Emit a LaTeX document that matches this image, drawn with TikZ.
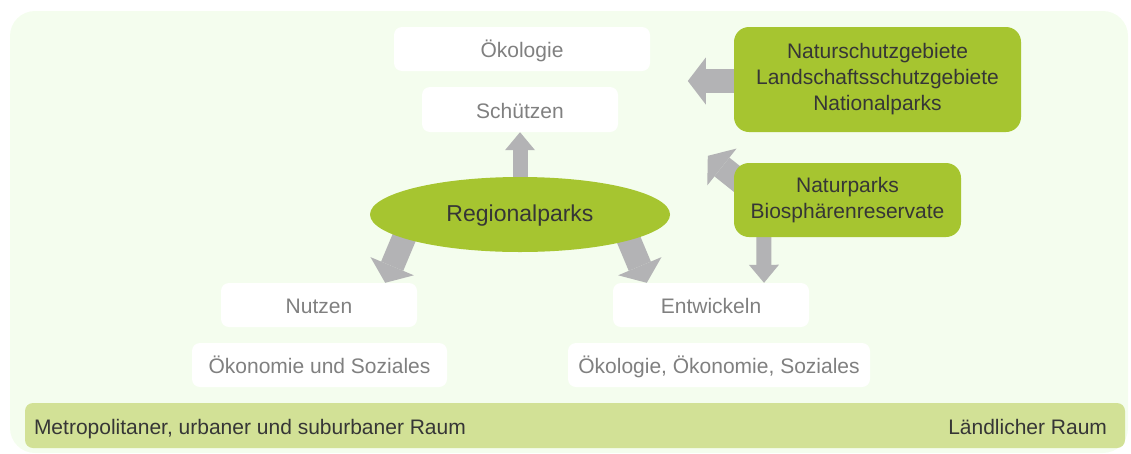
\documentclass[tikz,border=0pt]{standalone}
\usepackage{fontspec}
\setmainfont{Liberation Sans}
\usetikzlibrary{shapes.geometric,arrows.meta,calc}
\definecolor{bgcol}{HTML}{F4FDEE}
\definecolor{boxgreen}{HTML}{A6C530}
\definecolor{barcol}{HTML}{D2E196}
\definecolor{arrgrey}{HTML}{B3B3B5}
\definecolor{greytext}{HTML}{808080}
\definecolor{darktext}{HTML}{363636}
\pgfdeclarelayer{bg}
\pgfdeclarelayer{arr}
\pgfsetlayers{bg,arr,main}
\tikzset{
  txt/.style={font=\fontsize{21}{26}\selectfont},
  onel/.style={text height=21.5pt,text depth=4.5pt},
  whitebox/.style={txt,onel,fill=white,rounded corners=8pt,text=greytext,inner sep=0pt,align=center},
  greenbox/.style={txt,fill=boxgreen,rounded corners=15pt,text=darktext,inner sep=0pt,align=center},
  bigarrow/.style={draw=arrgrey,line width=24pt,-{Triangle[width=47pt,length=18pt,line width=0pt]}},
  smallarrow/.style={draw=arrgrey,line width=15pt,-{Triangle[width=30pt,length=18pt,line width=0pt]}},
}
\begin{document}
\begin{tikzpicture}[x=1pt,y=-1pt]
\useasboundingbox (0,0) rectangle (1131,453);
\begin{pgfonlayer}{bg}
\fill[bgcol,rounded corners=25pt] (10,11) rectangle (1128,453);
\end{pgfonlayer}
% white boxes
\node[whitebox,minimum width=256pt,minimum height=44pt] (oek) at (522,49) {Ökologie};
\node[whitebox,minimum width=196pt,minimum height=45pt] (schuetzen) at (520,109.5) {Schützen};
\node[whitebox,minimum width=196pt,minimum height=44pt] (nutzen) at (319,305) {Nutzen};
\node[whitebox,minimum width=255pt,minimum height=44pt] (oekon) at (319.5,365) {Ökonomie und Soziales};
\node[whitebox,minimum width=196pt,minimum height=44pt] (entw) at (711,305) {Entwickeln};
\node[whitebox,minimum width=302pt,minimum height=44pt] (oeoe) at (719,365) {Ökologie, Ökonomie, Soziales};
% ellipse
\node[ellipse,fill=boxgreen,text=darktext,inner sep=0pt,minimum width=300pt,minimum height=75pt,text height=20pt,text depth=7pt,font=\fontsize{23}{28}\selectfont] (reg) at (520,214.5) {Regionalparks};
% green boxes
\node[greenbox,minimum width=287pt,minimum height=105pt] (ns) at (877.5,79.5) {Naturschutzgebiete\\Landschaftsschutzgebiete\\Nationalparks};
\node[greenbox,minimum width=227pt,minimum height=74pt] (np) at (847.5,200) {Naturparks\\Biosphärenreservate};
% bottom bar
\node[fill=barcol,rounded corners=8pt,minimum width=1100pt,minimum height=45pt,inner sep=0pt] (bar) at (575,425.5) {};
\node[txt,onel,text=darktext,anchor=west,inner sep=0pt] (metro) at ($(bar.west)+(9,0)$) {Metropolitaner, urbaner und suburbaner Raum};
\node[txt,onel,text=darktext,anchor=east,inner sep=0pt] (land) at ($(bar.east)+(-18,0)$) {Ländlicher Raum};
% arrows
\coordinate (tipL) at ($(nutzen.north west)!0.837!(nutzen.north east)$);
\coordinate (startL) at ($(tipL)+(23.5,-56)$);
\coordinate (tipR) at ($(entw.north west)!0.173!(entw.north east)$);
\coordinate (startR) at ($(tipR)+(-23.5,-56)$);
\coordinate (nsTip) at ($(ns.west)+(-46,1.5)$);
\coordinate (nsStart) at ($(ns.west)+(10,1.5)$);
\coordinate (npTip) at ($(np.north west)+(-26,-7)$);
\coordinate (npStart) at ($(np.north west)+(13,24)$);
\coordinate (npDown) at ($(np.south west)+(30,-5)$);
\coordinate (entwTip) at ($(entw.north west)!0.77!(entw.north east)$);
\begin{pgfonlayer}{arr}
\draw[smallarrow] (reg.center) -- (schuetzen.south);
\draw[bigarrow] (startL) -- (tipL);
\draw[bigarrow] (startR) -- (tipR);
\draw[bigarrow] (nsStart) -- (nsTip);
\draw[bigarrow] (npStart) -- (npTip);
\draw[smallarrow] (npDown) -- (entwTip);
\end{pgfonlayer}
\end{tikzpicture}
\end{document}
